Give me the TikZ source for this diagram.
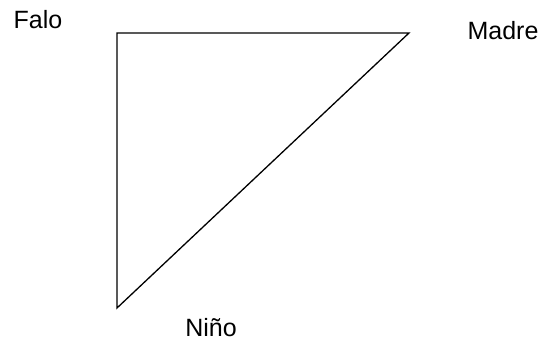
\documentclass[tikz,border=0pt]{standalone}
\usepackage{fontspec}
\setmainfont{Liberation Sans}
\usepackage{tikz}
\usetikzlibrary{calc, positioning}

\tikzset{
    etiqueta/.style={anchor=base, inner sep=0pt, font=\fontsize{25}{30}\selectfont}
}

\begin{document}
\begin{tikzpicture}[x=1pt, y=-1pt]

    % =================================================================
    % 1. MARCO DEL DIBUJO
    % =================================================================
    \useasboundingbox (0,0) rectangle (542,342);

    % =================================================================
    % 2. VERTICES DEL TRIANGULO
    % =================================================================
    \coordinate (falo) at (117,33);
    \coordinate (madre) at (409,33);
    \coordinate (nino) at (117,308);

    % Triangulo rectangulo
    \draw[line width=1.3pt, line join=miter] (falo) -- (madre) -- (nino) -- cycle;

    % =================================================================
    % 3. NOMBRES DE LOS VERTICES
    % =================================================================
    \node[etiqueta] (tFalo) at (38,29) {Falo};
    \node[etiqueta] (tMadre) at (503,40) {Madre};
    \node[etiqueta] (tNino) at (211,337) {Niño};

\end{tikzpicture}
\end{document}
